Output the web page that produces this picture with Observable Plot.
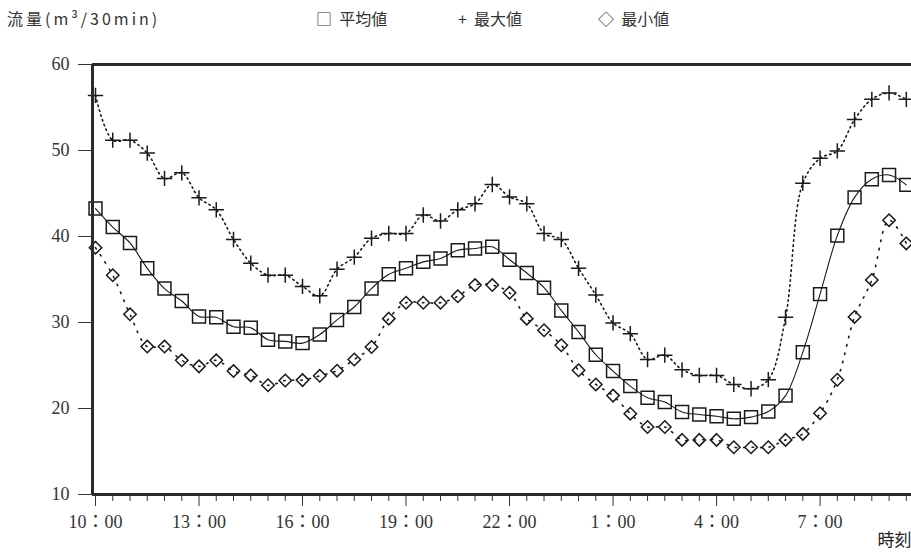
<!DOCTYPE html>
<html><head><meta charset="utf-8">
<script src="https://cdn.jsdelivr.net/npm/d3@7"></script>
<script src="https://cdn.jsdelivr.net/npm/@observablehq/plot@0.6"></script>
<style>
body{margin:0;background:#fff;width:911px;height:556px;overflow:hidden;font-family:"Noto Sans CJK JP",sans-serif;}
#head{position:relative;height:40px;}
#head span{position:absolute;top:8px;font-size:16px;color:#333;white-space:nowrap;line-height:20px;}
</style></head><body>
<div id="head">
<span style="left:7px;letter-spacing:3px">流量(m³/30min)</span>
<span style="left:316px">□&nbsp;&nbsp;平均値</span>
<span style="left:458px">+&nbsp;&nbsp;最大値</span>
<span style="left:598px">◇&nbsp;&nbsp;最小値</span>
</div>
<div id="chart"></div>
<script>
// half-hour slots from 10:00 to 9:30 next day
const slotLabels = ["10:00","10:30","11:00","11:30","12:00","12:30","13:00","13:30","14:00","14:30","15:00","15:30","16:00","16:30","17:00","17:30","18:00","18:30","19:00","19:30","20:00","20:30","21:00","21:30","22:00","22:30","23:00","23:30","0:00","0:30","1:00","1:30","2:00","2:30","3:00","3:30","4:00","4:30","5:00","5:30","6:00","6:30","7:00","7:30","8:00","8:30","9:00","9:30"];
const meanVals = [43.25,41.1,39.25,36.3,33.95,32.5,30.7,30.6,29.5,29.4,28.0,27.8,27.6,28.6,30.3,31.8,33.95,35.6,36.3,37.05,37.45,38.4,38.6,38.8,37.3,35.75,34.05,31.4,28.9,26.25,24.35,22.6,21.25,20.75,19.6,19.3,19.1,18.8,19.0,19.65,21.5,26.55,33.3,40.1,44.55,46.65,47.15,46.0];
const maxVals = [56.4,51.2,51.2,49.7,46.75,47.4,44.5,43.1,39.65,36.9,35.5,35.5,34.2,33.1,36.2,37.6,39.8,40.35,40.35,42.5,41.8,43.1,43.8,46.05,44.6,43.8,40.35,39.65,36.3,33.2,29.95,28.7,25.7,26.2,24.5,23.85,23.85,22.8,22.3,23.35,30.6,46.2,49.1,49.95,53.6,55.95,56.7,55.95];
const minVals = [38.7,35.5,30.95,27.2,27.2,25.6,24.9,25.6,24.35,23.85,22.7,23.25,23.3,23.8,24.4,25.7,27.15,30.45,32.3,32.3,32.3,33.05,34.35,34.35,33.45,30.45,29.1,27.35,24.45,22.8,21.5,19.4,17.85,17.85,16.35,16.35,16.35,15.5,15.5,15.5,16.35,17.05,19.45,23.35,30.65,34.95,41.9,39.2];
const majorTicks = [0,6,12,18,24,30,36,42];
const majorLabels = ["10：00","13：00","16：00","19：00","22：00","1：00","4：00","7：00"];
const yTicks = [10,20,30,40,50,60];

const rows = slotLabels.map((t,i)=>({i, t, mean:meanVals[i], max:maxVals[i], min:minVals[i]}));
const minorTicks = rows.map(d=>d.i).filter(i=>i%6!==0);
const ink = "#1a1a1a";

const chart = Plot.plot({
  width:911, height:516,
  marginTop:24, marginBottom:62, marginLeft:92, marginRight:0,
  style:{background:"#fff", fontFamily:"'Liberation Serif','Noto Sans CJK JP',serif", fontSize:"18px", color:"#333"},
  x:{domain:[-0.174,47.30], ticks:majorTicks, tickFormat:i=>majorLabels[majorTicks.indexOf(i)], tickSize:12, tickPadding:9, label:null},
  y:{domain:[10,60], ticks:yTicks, tickSize:14, tickPadding:9, label:null},
  marks:[
    Plot.ruleX(minorTicks, {x:d=>d, y1:10, y2:10-7/8.6, stroke:"#333"}),
    Plot.lineY(rows, {x:"i", y:"max", curve:"catmull-rom", stroke:ink, strokeWidth:1.6, strokeDasharray:"1.5,3.5"}),
    Plot.lineY(rows, {x:"i", y:"min", curve:"catmull-rom", stroke:ink, strokeWidth:1.6, strokeDasharray:"1.5,7"}),
    Plot.lineY(rows, {x:"i", y:"mean", curve:"catmull-rom", stroke:ink, strokeWidth:1.1}),
    Plot.dot(rows, {x:"i", y:"max", symbol:"plus", r:5, stroke:ink, strokeWidth:1.5}),
    Plot.dot(rows, {x:"i", y:"mean", symbol:"square", r:7.3, stroke:ink, fill:"none", strokeWidth:1.5}),
    Plot.dot(rows, {x:"i", y:"min", symbol:"diamond2", r:5.6, stroke:ink, fill:"none", strokeWidth:1.5}),
    Plot.ruleY([60], {stroke:"#2a2a2a", strokeWidth:3}),
    Plot.ruleY([10], {stroke:"#2a2a2a", strokeWidth:3}),
    Plot.ruleX([-0.174], {stroke:"#2a2a2a", strokeWidth:3}),
    Plot.text(["時刻"], {text:d=>d, frameAnchor:"bottom-right", dy:51, textAnchor:"end", fontSize:17, fontFamily:"'Noto Sans CJK JP',sans-serif", fill:"#222"})
  ]
});
document.getElementById("chart").appendChild(chart);
</script>
</body></html>
